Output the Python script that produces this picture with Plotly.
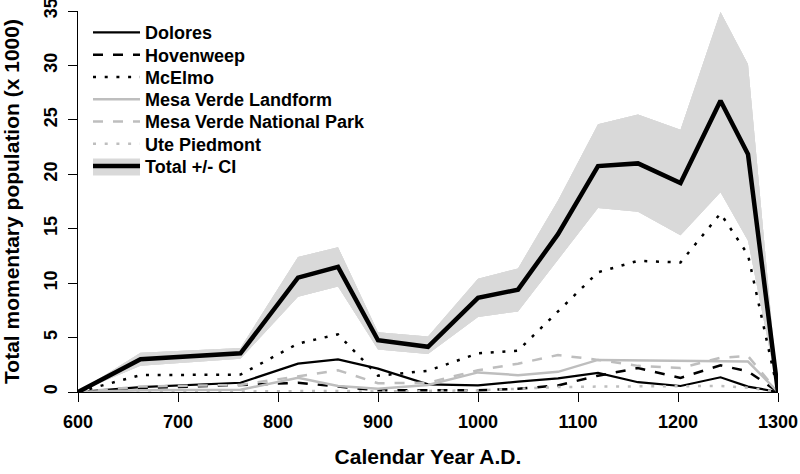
import plotly.graph_objects as go

# ---- data (values x 1000) ----
years = [600, 662.5, 762.5, 820, 860, 900, 950, 1000, 1040, 1080, 1120, 1160, 1202.5, 1242.5, 1270, 1300]

total = [0, 3.0, 3.55, 10.5, 11.5, 4.75, 4.15, 8.65, 9.4, 14.5, 20.75, 21.0, 19.2, 26.75, 21.85, 0]
total_upper = [0, 3.6, 4.05, 12.4, 13.3, 5.5, 5.1, 10.4, 11.35, 17.6, 24.6, 25.5, 24.1, 34.9, 30.1, 0]
total_lower = [0, 2.4, 3.05, 8.75, 9.7, 3.9, 3.5, 6.9, 7.4, 12.1, 16.9, 16.55, 14.4, 18.35, 13.9, 0]

dolores = [0, 0.45, 0.85, 2.6, 3.0, 2.15, 0.7, 0.6, 0.95, 1.25, 1.75, 0.9, 0.55, 1.35, 0.5, 0]
hovenweep = [0, 0.35, 0.65, 0.85, 0.5, 0.15, 0.15, 0.15, 0.3, 0.6, 1.5, 2.2, 1.3, 2.45, 1.9, 0]
mcelmo = [0, 1.55, 1.6, 4.45, 5.3, 1.5, 1.95, 3.55, 3.8, 7.4, 11.0, 12.05, 11.9, 16.4, 12.6, 0]
mv_landform = [0, 0.15, 0.2, 1.3, 0.55, 0.3, 0.65, 1.8, 1.55, 1.85, 2.95, 2.9, 2.85, 2.8, 2.8, 0]
mv_park = [0, 0.5, 0.65, 1.45, 2.0, 0.8, 0.85, 2.0, 2.6, 3.4, 2.95, 2.4, 2.2, 3.15, 3.3, 0]
ute = [0, 0.05, 0.05, 0.1, 0.1, 0.05, 0.1, 0.15, 0.3, 0.45, 0.5, 0.5, 0.5, 0.55, 0.4, 0]

x_ticks = [600, 700, 800, 900, 1000, 1100, 1200, 1300]
y_ticks = [0, 5, 10, 15, 20, 25, 30, 35]

BLACK = "black"
GRAY = "#bebebe"
BAND = "#d9d9d9"
FONT = "Liberation Sans"

PLOT_H = 474 - 11 - 82  # plot area height in px
# legend layout (paper coords)
L_X = 0.0143
L_Y0 = 0.943   # first row centre
L_DY = 0.0584  # row spacing
TOTAL_ROW = L_Y0 - 6 * L_DY

fig = go.Figure()

series = [
    ("Dolores", dolores, BLACK, "solid", 2.2),
    ("Hovenweep", hovenweep, BLACK, "10px,10px", 2.5),
    ("McElmo", mcelmo, BLACK, "3px,8.7px", 2.5),
    ("Mesa Verde Landform", mv_landform, GRAY, "solid", 2.5),
    ("Mesa Verde National Park", mv_park, GRAY, "10px,10px", 2.5),
    ("Ute Piedmont", ute, GRAY, "3px,8.7px", 2.5),
]

# CI band (drawn identically three times so that its legend swatch can be stacked tall)
band_legends = ["legend7", "legend8", "legend9"]
for lg in band_legends:
    fig.add_trace(go.Scatter(
        x=years + years[::-1], y=total_upper + total_lower[::-1],
        fill="toself", fillcolor=BAND, line=dict(width=0, color=BAND),
        mode="lines", name=" ", legend=lg, hoverinfo="skip"))

for i, (name, vals, col, dash, w) in enumerate(series):
    fig.add_trace(go.Scatter(x=years, y=vals, mode="lines", name=name,
                             legend="legend" if i == 0 else f"legend{i+1}",
                             line=dict(color=col, dash=dash, width=w)))

# Total line
fig.add_trace(go.Scatter(x=years, y=total, mode="lines", name="Total +/- CI",
                         legend="legend10", line=dict(color=BLACK, width=4.5)))

axis_common = dict(showline=True, linecolor=BLACK, linewidth=1, ticks="outside",
                   ticklen=9, tickwidth=1, tickcolor=BLACK, showgrid=False,
                   zeroline=False, automargin=False, ticklabeloverflow="allow",
                   tickfont=dict(family=FONT, size=18, color=BLACK, weight="bold"))

leg_font = dict(family=FONT, size=18, color=BLACK, weight="bold")
legends = {}
for k in range(6):
    key = "legend" if k == 0 else f"legend{k+1}"
    legends[key] = dict(y=L_Y0 - k * L_DY)
offsets = [-5.5, 0.0, 5.5]
for lg, off in zip(band_legends, offsets):
    legends[lg] = dict(y=TOTAL_ROW - off / PLOT_H)
legends["legend10"] = dict(y=TOTAL_ROW)
for key in legends:
    legends[key].update(x=L_X, xanchor="left", yanchor="middle",
                        bgcolor="rgba(0,0,0,0)", borderwidth=0, itemwidth=47,
                        font=leg_font)

fig.update_layout(
    width=800, height=474,
    margin=dict(l=78, r=22, t=11, b=82, autoexpand=False),
    plot_bgcolor="white", paper_bgcolor="white",
    font=dict(family=FONT, color=BLACK),
    showlegend=True,
    xaxis=dict(range=[600, 1300], tickvals=x_ticks, ticklabelstandoff=4,
               title=dict(text="Calendar Year A.D.", standoff=18,
                          font=dict(family=FONT, size=21, color=BLACK, weight="bold")),
               **axis_common),
    yaxis=dict(range=[0, 35], tickvals=y_ticks, tickangle=-90, ticklabelstandoff=4,
               title=dict(text="Total momentary population (x 1000)", standoff=16,
                          font=dict(family=FONT, size=21, color=BLACK, weight="bold")),
               **axis_common),
    **legends,
)

fig.write_html("out.html", config={"displayModeBar": False},
               post_script="document.body.style.margin='0px';")
